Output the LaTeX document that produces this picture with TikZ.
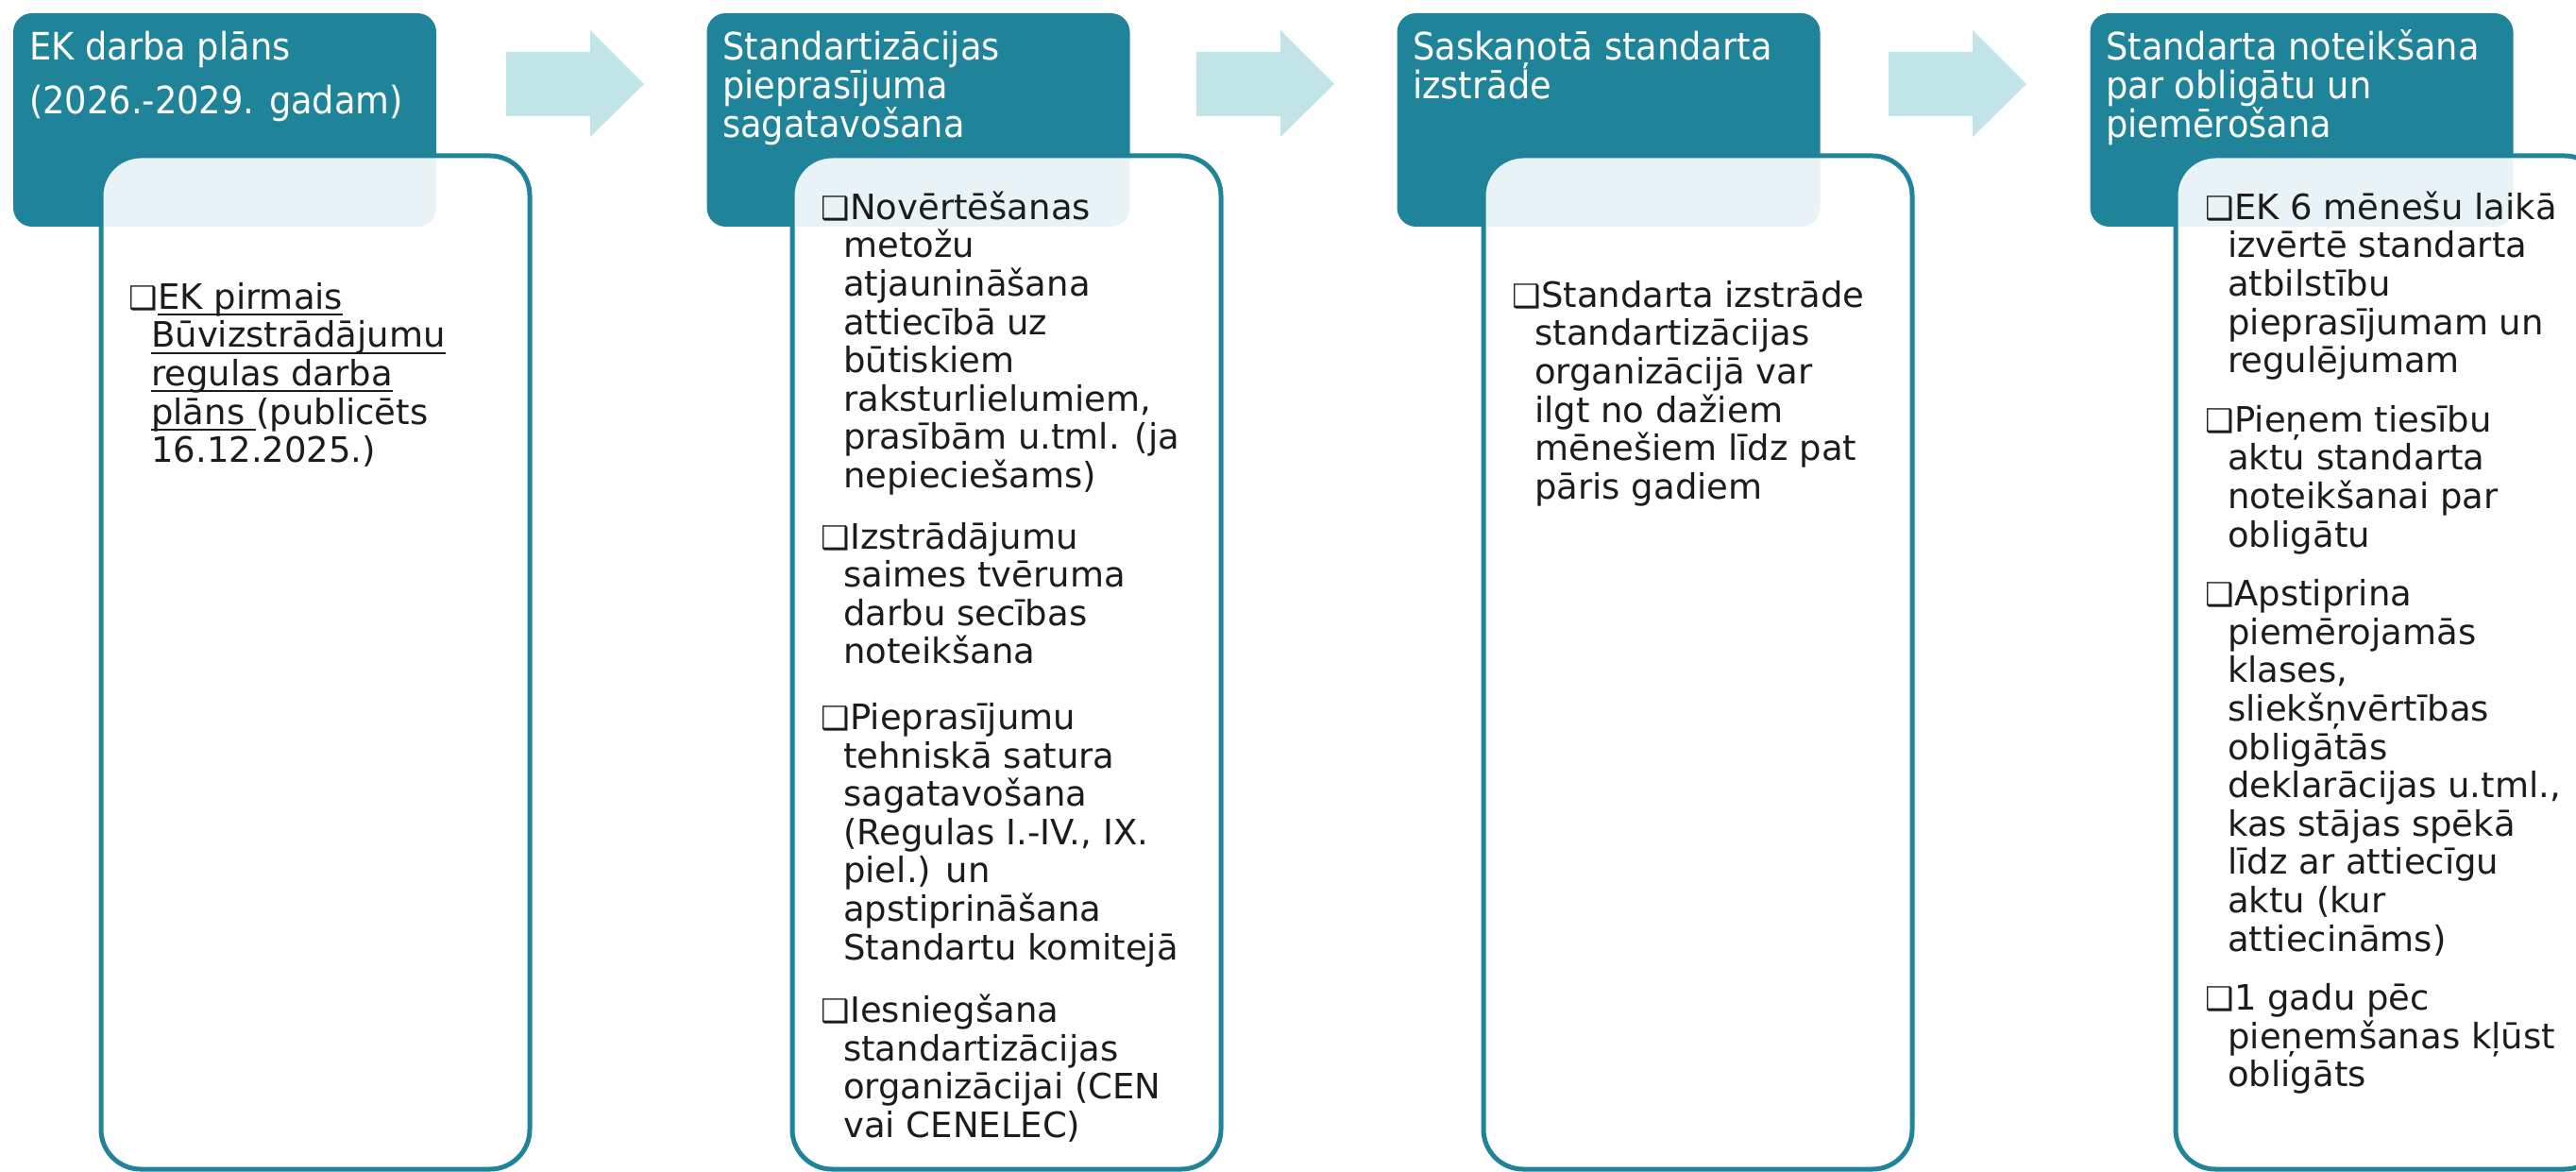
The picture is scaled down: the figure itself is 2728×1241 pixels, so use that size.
\documentclass[tikz,border=0pt]{standalone}
\usepackage{fontspec}
\setmainfont{DejaVu Sans}
\newfontfamily\hfont{DejaVu Sans}[FakeStretch=0.92]
\definecolor{teal1}{RGB}{31,132,153}
\definecolor{arr}{RGB}{192,228,232}
\definecolor{ink}{RGB}{28,28,28}
\newcommand\bul{\makebox[29pt][l]{\hspace*{-2pt}\fontsize{34}{34}\selectfont ❑}}
\newcommand\ind{\hspace*{22pt}}
\newcommand\ulx[1]{\setbox0\hbox{#1}\rlap{\rule[-7pt]{\wd0}{2pt}}\box0}
\newcommand\fst{\rule{0pt}{40pt}}
\newcommand\barrow[2]{\fill[arr] (#1,55) -- ++(89,0) -- ++(0,-23) -- (#1+146,89) -- (#1+89,145) -- ++(0,-22) -- (#1,123) -- cycle; \coordinate (#2) at (#1+73,89);}
\tikzset{
  hdr/.style={fill=teal1, draw=none, rounded corners=20pt, minimum width=448pt, minimum height=226pt, inner sep=0pt},
  tbox/.style={fill=white, fill opacity=0.9, draw=teal1, line width=5pt, rounded corners=42pt, minimum width=454pt, minimum height=1073pt, inner sep=0pt},
  htxt/.style={anchor=north west, inner sep=0pt, align=left, text=white, font=\hfont\fontsize{40}{41}\selectfont},
  btxt/.style={anchor=north west, inner sep=0pt, align=left, text=ink, font=\fontsize{37}{40.6}\selectfont}
}
\begin{document}
\setlength{\lineskiplimit}{-1000pt}
\begin{tikzpicture}[x=1pt,y=-1pt]
\useasboundingbox (0,0) rectangle (2728,1241);
\clip (0,0) rectangle (2728,1241);
% headers
\node[hdr] (h1) at (238,127) {};
\node[hdr] (h2) at (972.5,127) {};
\node[hdr] (h3) at (1703.5,127) {};
\node[hdr] (h4) at (2437.5,127) {};
% arrows
\barrow{536}{a1}
\barrow{1267}{a2}
\barrow{2000}{a3}
% text boxes
\node[tbox] (b1) at (334,701.5) {};
\node[tbox] (b2) at (1066,701.5) {};
\node[tbox] (b3) at (1798,701.5) {};
\node[tbox] (b4) at (2531,701.5) {};
% header texts
\node[htxt] (t1) at (31,23) {\fst EK darba plāns\\[16pt](2026.-2029. gadam)};
\node[htxt] (t2) at (765,23) {\fst Standartizācijas\\pieprasījuma\\sagatavošana};
\node[htxt] (t3) at (1496,23) {\fst Saskaņotā standarta\\izstrāde};
\node[htxt] (t4) at (2230,23) {\fst Standarta noteikšana\\par obligātu un\\piemērošana};
% body texts
\node[btxt] (c1) at (138,287) {\fst\bul\ulx{EK pirmais}\\
\ind\ulx{Būvizstrādājumu}\\
\ind\ulx{regulas darba}\\
\ind\ulx{plāns\ }(publicēts\\
\ind 16.12.2025.)};
\node[btxt] (c2) at (871,192) {\fst\bul Novērtēšanas\\
\ind metožu\\
\ind atjaunināšana\\
\ind attiecībā uz\\
\ind būtiskiem\\
\ind raksturlielumiem,\\
\ind prasībām u.tml. (ja\\
\ind nepieciešams)\\[24pt]
\bul Izstrādājumu\\
\ind saimes tvēruma\\
\ind darbu secības\\
\ind noteikšana\\[29pt]
\bul Pieprasījumu\\
\ind tehniskā satura\\
\ind sagatavošana\\
\ind (Regulas I.-IV., IX.\\
\ind piel.) un\\
\ind apstiprināšana\\
\ind Standartu komitejā\\[26pt]
\bul Iesniegšana\\
\ind standartizācijas\\
\ind organizācijai (CEN\\
\ind vai CENELEC)};
\node[btxt] (c3) at (1603,285) {\fst\bul Standarta izstrāde\\
\ind standartizācijas\\
\ind organizācijā var\\
\ind ilgt no dažiem\\
\ind mēnešiem līdz pat\\
\ind pāris gadiem};
\node[btxt] (c4) at (2337,192) {\fst\bul EK 6 mēnešu laikā\\
\ind izvērtē standarta\\
\ind atbilstību\\
\ind pieprasījumam un\\
\ind regulējumam\\[22pt]
\bul Pieņem tiesību\\
\ind aktu standarta\\
\ind noteikšanai par\\
\ind obligātu\\[22pt]
\bul Apstiprina\\
\ind piemērojamās\\
\ind klases,\\
\ind sliekšņvērtības\\
\ind obligātās\\
\ind deklarācijas u.tml.,\\
\ind kas stājas spēkā\\
\ind līdz ar attiecīgu\\
\ind aktu (kur\\
\ind attiecināms)\\[22pt]
\bul 1 gadu pēc\\
\ind pieņemšanas kļūst\\
\ind obligāts};
\end{tikzpicture}
\end{document}
